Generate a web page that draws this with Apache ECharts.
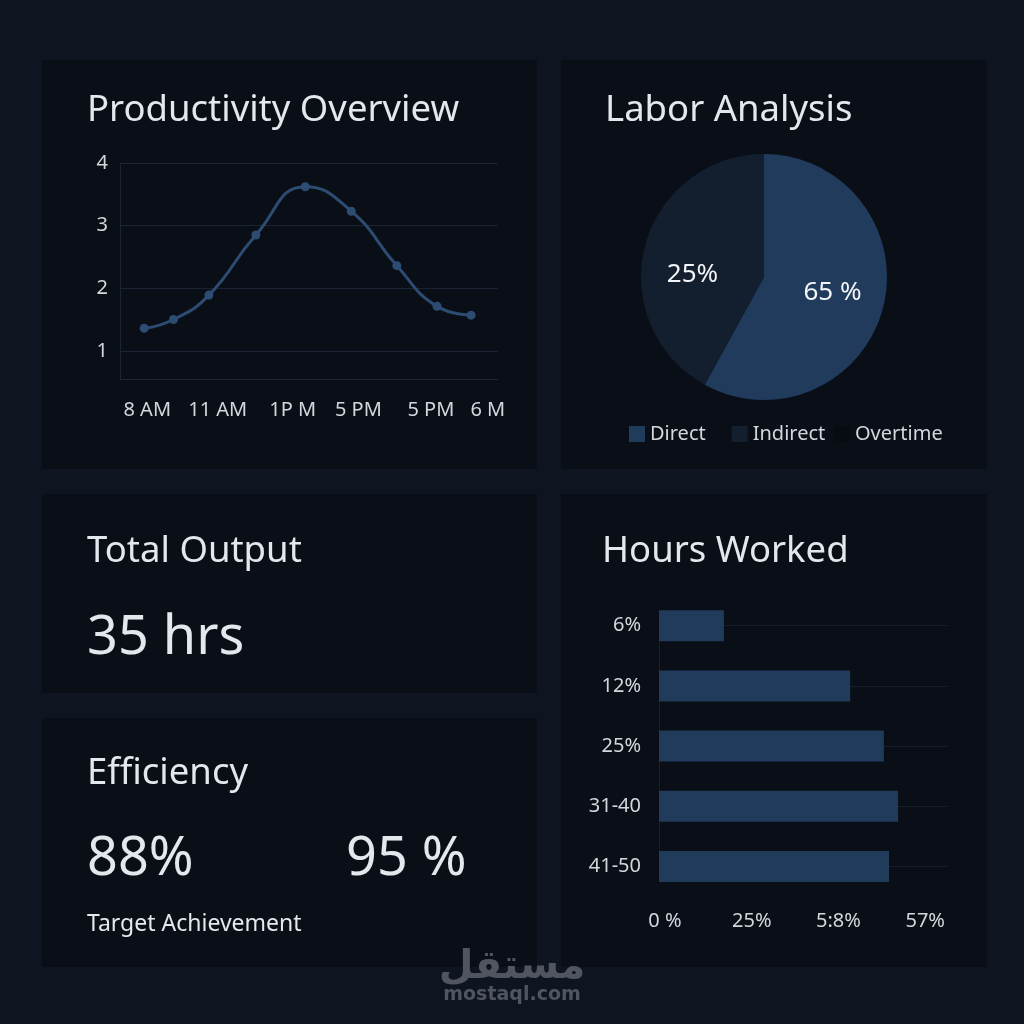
<!DOCTYPE html>
<html><head><meta charset="utf-8">
<script src="https://cdn.jsdelivr.net/npm/echarts@6/dist/echarts.min.js"></script>
<style>html,body{margin:0;padding:0;background:#0f1520;}#c{width:1024px;height:1024px;}</style>
</head><body><div id="c"></div>
<script>
// ---- data ----
const lineHours = [7.91, 8.77, 9.81, 11.19, 12.64, 13.99, 15.33, 16.51, 17.51];
const lineValues = [1.36, 1.50, 1.89, 2.85, 3.62, 3.23, 2.36, 1.71, 1.57];
const lineTickHours = [8, 10.07, 12.27, 14.2, 16.33, 18];
const lineTickLabels = ['8 AM', '11 AM', '1P M', '5 PM', '5 PM', '6 M'];
const lineYTicks = [1, 2, 3, 4];

const pieNames = ['Direct', 'Indirect', 'Overtime'];
const pieValues = [58, 42, 0];
const pieLabels = ['65 %', '25%', ''];

const barCategories = ['6%', '12%', '25%', '31-40', '41-50'];
const barValues = [18.7, 55.1, 64.8, 68.9, 66.3];
const barTickValues = [0, 25, 50, 75];
const barTickLabels = ['0 %', '25%', '5:8%', '57%'];

const panelTitles = ['Productivity Overview', 'Labor Analysis', 'Total Output', 'Hours Worked', 'Efficiency'];
const kpiTotal = '35 hrs';
const kpiEff = ['88%', '95 %'];
const kpiEffCaption = 'Target Achievement';
const watermark = ['مستقل', 'mostaql.com'];

// ---- styles ----
const FONT = '"Noto Sans", "Open Sans", sans-serif';
const TXT = '#e4e7ec';
const LBL = '#d3d7dd';
const PANEL = '#0a0e17';
const GRIDC = '#1a2435';
const BLUE = '#2c4c72';
const BAR = '#213b5b';
const pieColors = ['#203b5c', '#131e2f', 'rgba(0,0,0,0)'];
const pieLabelPadding = [[0, 0, 0, 12], [0, 18, 0, 0], [0, 0, 0, 0]];
const pieLabelLead = ['', '\n', ''];

const chart = echarts.init(document.getElementById('c'), null, {renderer: 'canvas'});

function panel(x, y, w, h) {
  return {type: 'rect', z: -10, silent: true, shape: {x: x, y: y, width: w, height: h}, style: {fill: PANEL}};
}
function txt(s, x, y, size, color) {
  return {type: 'text', z: 10, silent: true, x: x, y: y,
    style: {text: s, fill: color || TXT, font: 'normal ' + size + 'px ' + FONT, textVerticalAlign: 'middle', textAlign: 'left'}};
}

const option = {
  backgroundColor: '#0f1520',
  animation: false,
  textStyle: {fontFamily: FONT},
  graphic: [
    panel(42, 60, 495, 409),
    panel(561, 60, 426, 409),
    panel(42, 494, 495, 199),
    panel(42, 718, 495, 249),
    panel(561, 494, 426, 473),
    txt(panelTitles[0], 87, 111, 36.5),
    txt(panelTitles[1], 605, 111, 36.5),
    txt(panelTitles[2], 87, 552, 36.5),
    txt(panelTitles[3], 602, 552, 36.5),
    txt(panelTitles[4], 87, 774, 36.5),
    txt(kpiTotal, 87, 639, 54),
    txt(kpiEff[0], 87, 860, 54),
    txt(kpiEff[1], 346, 860, 54),
    txt(kpiEffCaption, 87, 924, 23),
    {type: 'text', z: 20, silent: true, x: 512, y: 968,
      style: {text: watermark[0], fill: '#50555f', font: 'bold 40px "DejaVu Sans", sans-serif', textAlign: 'center', textVerticalAlign: 'middle'}},
    {type: 'text', z: 20, silent: true, x: 512, y: 995,
      style: {text: watermark[1], fill: '#50555f', font: 'bold 19px "DejaVu Sans", sans-serif', textAlign: 'center', textVerticalAlign: 'middle'}}
  ],
  legend: [
    {data: ['Direct', 'Indirect'], left: 629, top: 424, padding: 0, itemWidth: 16, itemHeight: 16, itemGap: 26,
      selectedMode: false, icon: 'rect', textStyle: {color: LBL, fontSize: 20, fontFamily: FONT}},
    {data: ['Overtime'], left: 834, top: 424, padding: 0, itemWidth: 16, itemHeight: 16,
      selectedMode: false, icon: 'rect', textStyle: {color: LBL, fontSize: 20, fontFamily: FONT}}
  ],
  grid: [
    {left: 120, right: 1024 - 498, top: 163, bottom: 1024 - 379, containLabel: false},
    {left: 659, right: 1024 - 947, top: 625.7, bottom: 1024 - 866.5, containLabel: false}
  ],
  xAxis: [
    {gridIndex: 0, type: 'value', min: 7.2, max: 18.3,
      axisLine: {show: true, lineStyle: {color: GRIDC, width: 1}},
      axisTick: {show: false}, splitLine: {show: false},
      axisLabel: {color: LBL, fontSize: 20, fontFamily: FONT, margin: 21,
        customValues: lineTickHours,
        formatter: function (v) { const i = lineTickHours.indexOf(v); return i >= 0 ? lineTickLabels[i] : ''; }}},
    {gridIndex: 1, type: 'value', min: 0, max: 83,
      axisLine: {show: false}, axisTick: {show: false}, splitLine: {show: false},
      axisLabel: {color: LBL, fontSize: 20, fontFamily: FONT, margin: 45, padding: [0, 0, 0, 12],
        customValues: barTickValues,
        formatter: function (v) { const i = barTickValues.indexOf(v); return i >= 0 ? barTickLabels[i] : ''; }}}
  ],
  yAxis: [
    {gridIndex: 0, type: 'value', min: 0.55, max: 4,
      axisLine: {show: true, lineStyle: {color: GRIDC, width: 1}},
      axisTick: {show: false}, splitLine: {show: false},
      axisLabel: {color: LBL, fontSize: 20, fontFamily: FONT, margin: 12,
        customValues: lineYTicks,
        formatter: function (v) { return lineYTicks.indexOf(v) >= 0 ? String(v) : ''; }}},
    {gridIndex: 1, type: 'category', inverse: true, boundaryGap: false, data: barCategories,
      axisLine: {show: true, lineStyle: {color: '#161f2d', width: 1}},
      axisTick: {show: false},
      splitLine: {show: true, lineStyle: {color: '#161f2d', width: 1}},
      axisLabel: {color: LBL, fontSize: 20, fontFamily: FONT, margin: 18}}
  ],
  series: [
    {type: 'line', xAxisIndex: 0, yAxisIndex: 0, smooth: 0.5,
      data: lineHours.map(function (h, i) { return [h, lineValues[i]]; }),
      symbol: 'circle', symbolSize: 9, itemStyle: {color: BLUE},
      lineStyle: {color: BLUE, width: 3}, z: 5,
      markLine: {silent: true, symbol: 'none', label: {show: false}, animation: false,
        lineStyle: {color: GRIDC, type: 'solid', width: 1},
        data: lineYTicks.map(function (v) { return {yAxis: v}; })}},
    {type: 'pie', center: [764, 277], radius: 123, startAngle: 90, clockwise: true,
      silent: true, emphasis: {disabled: true},
      data: pieNames.map(function (n, i) {
        return {name: n, value: pieValues[i], itemStyle: {color: pieColors[i]},
          label: {padding: pieLabelPadding[i]}};
      }),
      label: {show: true, position: 'inside', color: '#f2f4f7', fontSize: 26, lineHeight: 28, fontFamily: FONT,
        formatter: function (p) { return pieLabels[p.dataIndex] ? pieLabelLead[p.dataIndex] + pieLabels[p.dataIndex] : ''; }},
      labelLine: {show: false}},
    {type: 'bar', xAxisIndex: 1, yAxisIndex: 1, data: barValues, barWidth: 31, clip: false,
      itemStyle: {color: BAR}, silent: true}
  ]
};
chart.setOption(option);
</script>
</body></html>
